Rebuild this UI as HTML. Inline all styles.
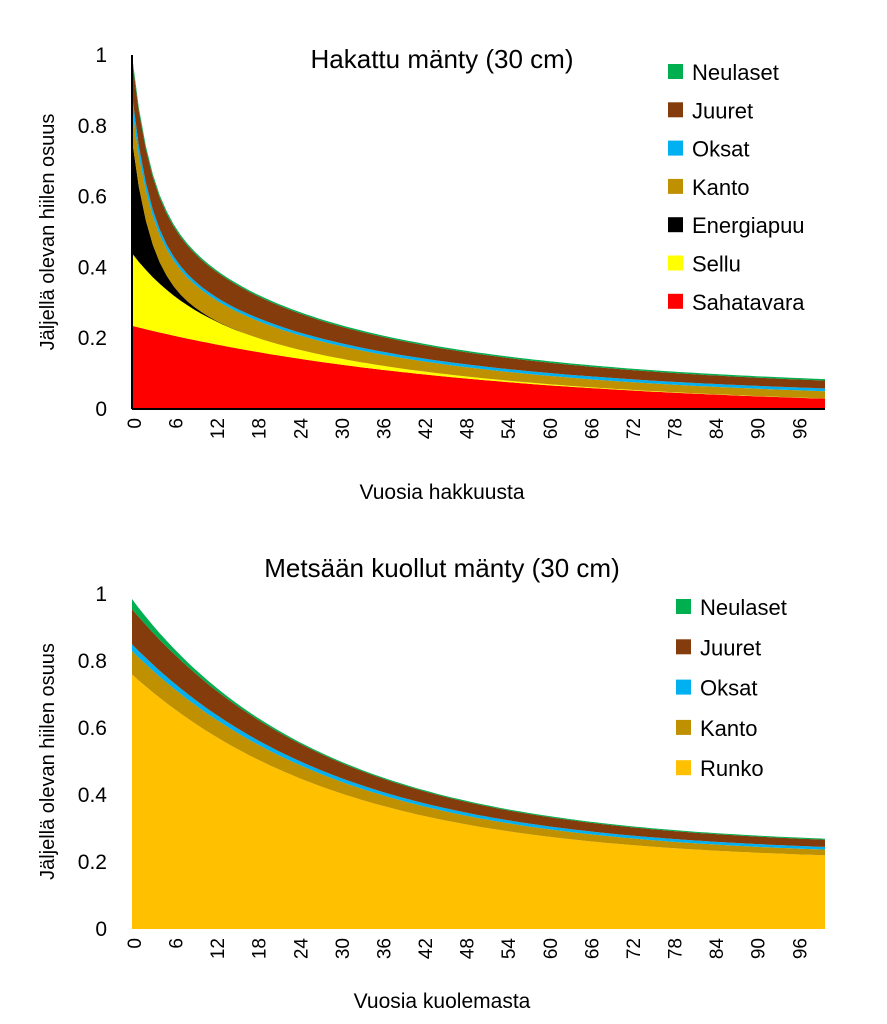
<!DOCTYPE html>
<html><head><meta charset="utf-8"><style>
body{margin:0;background:#fff}
svg{display:block;font-family:"Liberation Sans",sans-serif}
</style></head><body>
<svg id="s" width="887" height="1024" xmlns="http://www.w3.org/2000/svg"></svg>
<script>
const s=document.getElementById('s');
let h='';
const X=t=>132+t*6.93;
function chart(y0,unit,layers,title,titleY,xTitle,xTitleY,legend,legX,legY,legStep,axis){
  const Y=v=>y0-v*unit;
  let prev=new Array(101).fill(0);
  layers.forEach(L=>{
    let cur=[];for(let t=0;t<=100;t++)cur.push(prev[t]+L.f(t));
    let d='M'+X(0)+','+Y(prev[0]);
    for(let t=0;t<=100;t++)d+='L'+X(t).toFixed(1)+','+Y(cur[t]).toFixed(1);
    for(let t=100;t>=0;t--)d+='L'+X(t).toFixed(1)+','+Y(prev[t]).toFixed(1);
    h+=`<path d="${d}Z" fill="${L.c}"/>`;
    prev=cur;
  });
  if(axis){h+=`<line x1="132" y1="${y0}" x2="825" y2="${y0}" stroke="#000" stroke-width="2"/><line x1="132" y1="${y0}" x2="132" y2="${Y(1)}" stroke="#000" stroke-width="2"/>`;}
  [0,0.2,0.4,0.6,0.8,1].forEach(v=>{h+=`<text x="107" y="${Y(v)+7}" font-size="21" text-anchor="end">${v}</text>`});
  for(let t=0;t<=96;t+=6){const x=X(t)+3;const yy=y0+9;h+=`<text transform="translate(${x+6},${yy}) rotate(-90)" font-size="19" text-anchor="end">${t}</text>`;}
  h+=`<text x="442" y="${titleY}" font-size="26" text-anchor="middle">${title}</text>`;
  h+=`<text x="442" y="${xTitleY}" font-size="21" text-anchor="middle">${xTitle}</text>`;
  h+=`<text transform="translate(54,${y0-unit/2}) rotate(-90)" font-size="20" text-anchor="middle">Jäljellä olevan hiilen osuus</text>`;
  legend.forEach((l,i)=>{const y=legY+i*legStep;h+=`<rect x="${legX}" y="${y-8}" width="15" height="15" fill="${l[1]}"/><text x="${legX+24}" y="${y+8}" font-size="22">${l[0]}</text>`;});
}
const e=Math.exp;
chart(409,354,[
 {c:'#ff0000',f:t=>0.235*e(-t/48)},
 {c:'#ffff00',f:t=>0.205*(0.7*e(-t/8)+0.3*e(-t/20))},
 {c:'#000000',f:t=>0.32*e(-t/2.4)},
 {c:'#bf9000',f:t=>0.02+0.07*e(-t/20)},
 {c:'#00b0f0',f:t=>0.008+0.03*e(-t/3)},
 {c:'#843c0c',f:t=>0.02+0.08*e(-t/28)},
 {c:'#00b050',f:t=>0.004+0.008*e(-t/5)}
],'Hakattu mänty (30 cm)',68,'Vuosia hakkuusta',499,
[['Neulaset','#00b050'],['Juuret','#843c0c'],['Oksat','#00b0f0'],['Kanto','#bf9000'],['Energiapuu','#000'],['Sellu','#ffff00'],['Sahatavara','#ff0000']],668,72,38.3,true);
chart(929,335,[
 {c:'#ffc000',f:t=>0.2+0.56*e(-t/30)},
 {c:'#bf9000',f:t=>0.015+0.055*e(-t/30)},
 {c:'#00b0f0',f:t=>0.008+0.012*e(-t/20)},
 {c:'#843c0c',f:t=>0.02+0.085*e(-t/25)},
 {c:'#00b050',f:t=>0.003+0.027*e(-t/8)}
],'Metsään kuollut mänty (30 cm)',577,'Vuosia kuolemasta',1008,
[['Neulaset','#00b050'],['Juuret','#843c0c'],['Oksat','#00b0f0'],['Kanto','#bf9000'],['Runko','#ffc000']],676,607,40.3,false);
s.innerHTML=h;
</script>
</body></html>
